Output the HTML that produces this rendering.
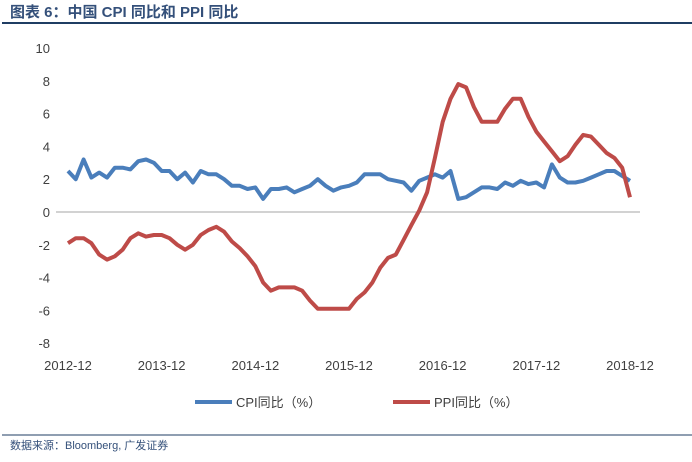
<!DOCTYPE html>
<html><head><meta charset="utf-8"><style>
body{margin:0;background:#fff;width:692px;height:457px;overflow:hidden;font-family:"Liberation Sans","Noto Sans CJK SC",sans-serif}
</style></head><body>
<svg width="692" height="457" xmlns="http://www.w3.org/2000/svg" font-family="Liberation Sans, Noto Sans CJK SC, sans-serif">
<text x="10" y="17" font-size="15" font-weight="bold" fill="#34507a">图表 6：中国 CPI 同比和 PPI 同比</text>
<line x1="2" y1="23" x2="692" y2="23" stroke="#1f3d63" stroke-width="2"/>
<g id="axes"></g>
<g id="series"></g>
<g>
<line x1="195" y1="402" x2="232" y2="402" stroke="#4a7ebb" stroke-width="4"/>
<text x="236" y="407" font-size="13" fill="#404040">CPI同比（%）</text>
<line x1="393" y1="402" x2="430" y2="402" stroke="#be4b48" stroke-width="4"/>
<text x="434" y="407" font-size="13" fill="#404040">PPI同比（%）</text>
</g>
<line x1="2" y1="435" x2="692" y2="435" stroke="#1f3d63" stroke-width="1"/>
<text x="10" y="449" font-size="11" fill="#34507a">数据来源：Bloomberg, 广发证券</text>
</svg>
<script>
const xLabels=["2012-12","2013-12","2014-12","2015-12","2016-12","2017-12","2018-12"];
const yTicks=[10,8,6,4,2,0,-2,-4,-6,-8];
const cpi=[2.5,2.0,3.2,2.1,2.4,2.1,2.7,2.7,2.6,3.1,3.2,3.0,2.5,2.5,2.0,2.4,1.8,2.5,2.3,2.3,2.0,1.6,1.6,1.4,1.5,0.8,1.4,1.4,1.5,1.2,1.4,1.6,2.0,1.6,1.3,1.5,1.6,1.8,2.3,2.3,2.3,2.0,1.9,1.8,1.3,1.9,2.1,2.3,2.1,2.5,0.8,0.9,1.2,1.5,1.5,1.4,1.8,1.6,1.9,1.7,1.8,1.5,2.9,2.1,1.8,1.8,1.9,2.1,2.3,2.5,2.5,2.2,1.9];
const ppi=[-1.9,-1.6,-1.6,-1.9,-2.6,-2.9,-2.7,-2.3,-1.6,-1.3,-1.5,-1.4,-1.4,-1.6,-2.0,-2.3,-2.0,-1.4,-1.1,-0.9,-1.2,-1.8,-2.2,-2.7,-3.3,-4.3,-4.8,-4.6,-4.6,-4.6,-4.8,-5.4,-5.9,-5.9,-5.9,-5.9,-5.9,-5.3,-4.9,-4.3,-3.4,-2.8,-2.6,-1.7,-0.8,0.1,1.2,3.3,5.5,6.9,7.8,7.6,6.4,5.5,5.5,5.5,6.3,6.9,6.9,5.8,4.9,4.3,3.7,3.1,3.4,4.1,4.7,4.6,4.1,3.6,3.3,2.7,0.9];
const NS="http://www.w3.org/2000/svg";
const x=i=>68+i*(562/72);
const y=v=>212-v*16.4;
const axes=document.getElementById('axes'),ser=document.getElementById('series');
yTicks.forEach(t=>{const e=document.createElementNS(NS,'text');


e.setAttribute('x',50);e.setAttribute('y',y(t)+5);e.setAttribute('text-anchor','end');e.setAttribute('font-size','13');e.setAttribute('fill','#404040');e.textContent=t;axes.appendChild(e);});
const z=document.createElementNS(NS,'line');


z.setAttribute('x1',56);z.setAttribute('x2',640);z.setAttribute('y1',y(0));z.setAttribute('y2',y(0));z.setAttribute('stroke','#a6a6a6');axes.appendChild(z);
xLabels.forEach((l,k)=>{const e=document.createElementNS(NS,'text');


e.setAttribute('x',x(k*12));e.setAttribute('y',370);e.setAttribute('text-anchor','middle');e.setAttribute('font-size','13');e.setAttribute('fill','#404040');e.textContent=l;axes.appendChild(e);});
function line(d,c,n){const p=document.createElementNS(NS,'polyline');


p.setAttribute('points',d.map((v,i)=>x(i).toFixed(1)+','+y(v).toFixed(1)).join(' '));
p.setAttribute('fill','none');p.setAttribute('stroke',c);p.setAttribute('stroke-width','4');p.setAttribute('stroke-linejoin','round');ser.appendChild(p);}
line(cpi,'#4a7ebb','cpi-line');line(ppi,'#be4b48','ppi-line');
</script>
</body></html>
